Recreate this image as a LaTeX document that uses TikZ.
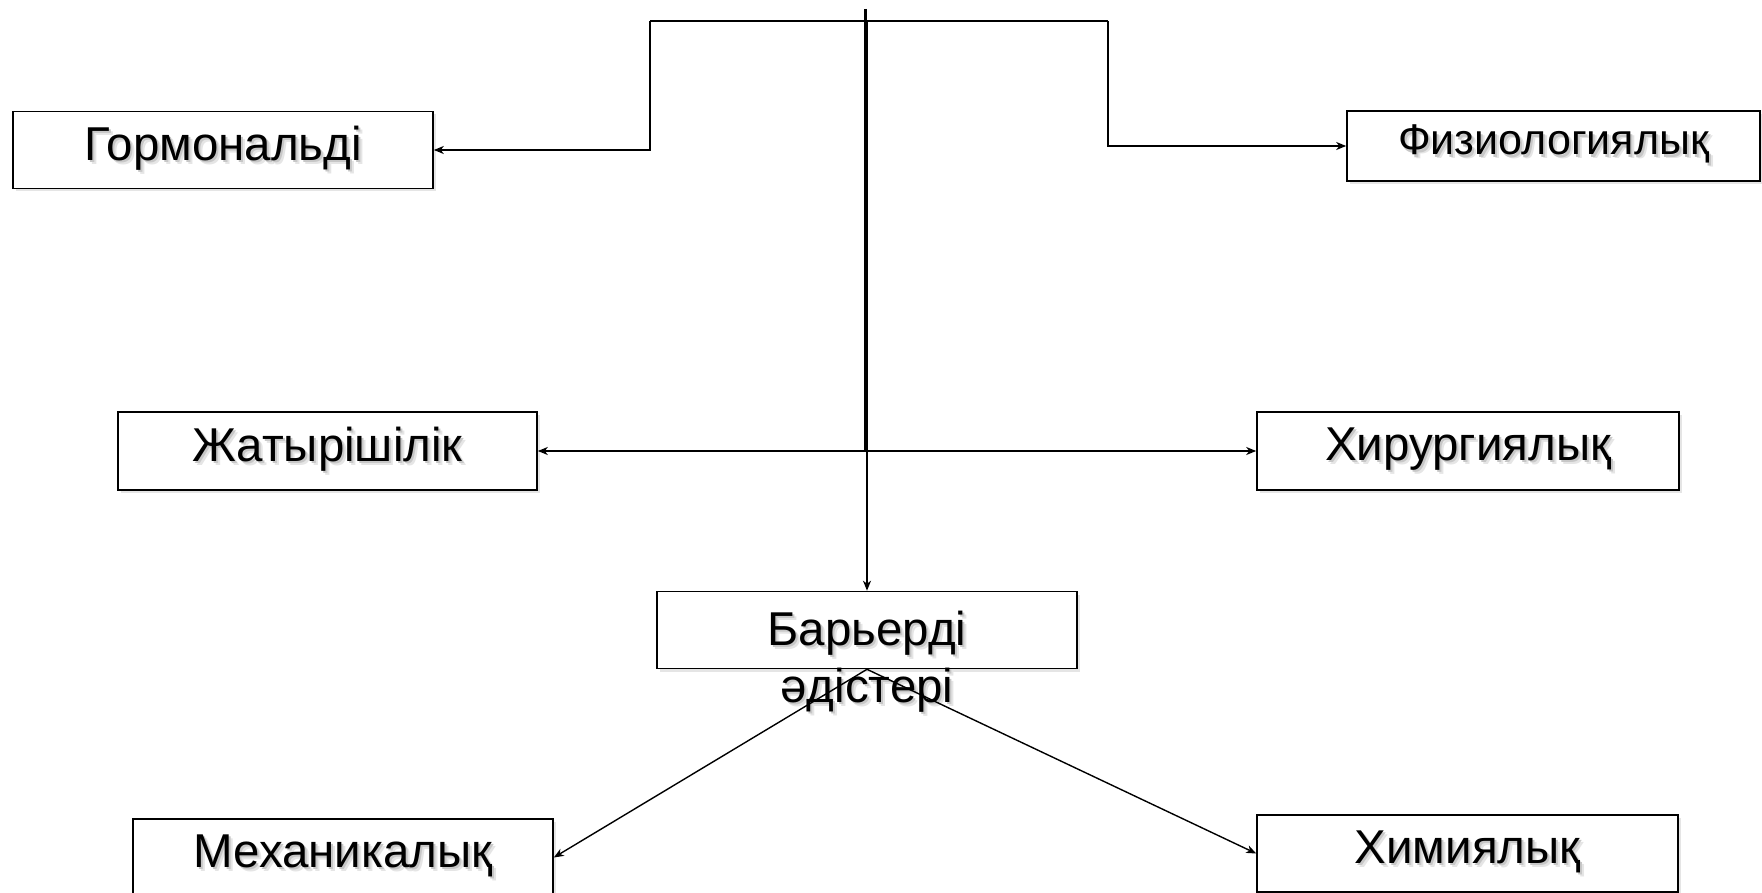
\documentclass[tikz,border=0pt]{standalone}
\usepackage{fontspec}
\setmainfont{Liberation Sans}
\usetikzlibrary{arrows.meta,shadows}
\newcommand\shd[1]{\leavevmode\rlap{\hspace{4pt}\raisebox{-4pt}{\textcolor{black!10}{#1}}}\rlap{\hspace{2pt}\raisebox{-2.5pt}{\textcolor{black!22}{#1}}}#1}
\begin{document}
\begin{tikzpicture}[x=1pt,y=-1pt,
  box/.style={draw,line width=1.6pt,fill=white,inner sep=0pt,
    drop shadow={shadow xshift=3pt,shadow yshift=-3pt,opacity=0.2}},
  lbl/.style={font=\fontsize{47.5}{55}\selectfont},
  conn/.style={line width=1.4pt},
  arr/.style={conn,-{Stealth[length=10pt,width=8pt,inset=3pt]}}]
\useasboundingbox (0,0) rectangle (1762,893);
\fill[white] (0,0) rectangle (1762,893);
% boxes
\node[box,minimum width=420pt,minimum height=77pt,lbl] (horm) at (223,150) {\shd{Гормональді}};
\node[box,minimum width=413pt,minimum height=70pt,font=\fontsize{43}{50}\selectfont] (phys) at (1553.5,146) {\shd{Физиологиялық}};
\node[box,minimum width=419pt,minimum height=78pt,lbl] (zhat) at (327.5,451) {\shd{Жатырішілік}};
\node[box,minimum width=422pt,minimum height=78pt,lbl] (hir) at (1468,451) {\shd{Хирургиялық}};
\node[box,minimum width=420pt,minimum height=77pt] (bar) at (867,630) {};
\node[lbl,anchor=base,inner sep=0pt] (bart1) at (867,645) {\shd{Барьерді}};
\node[lbl,anchor=base,inner sep=0pt] (bart2) at (867,702) {\shd{әдістері}};
\node[box,minimum width=420pt,minimum height=77pt,lbl] (mech) at (343,857.5) {\shd{Механикалық}};
\node[box,minimum width=421pt,minimum height=77pt,lbl] (chem) at (1467.5,853.5) {\shd{Химиялық}};
% connectors
\coordinate (top) at (865,9);
\coordinate (mid) at (865,451);
\coordinate (tl) at (650,21);
\coordinate (tr) at (1108,21);
\coordinate (t2) at (867,21);
\draw[line width=3pt] (top) -- (mid);
\draw[conn] (tl) -- (tr);
\draw[arr] (tl) |- (horm.east);
\draw[arr] (tr) |- (phys.west);
\draw[arr] (mid) -- (zhat.east);
\draw[arr] (mid) -- (hir.west);
\draw[arr] (t2) -- (bar.north);
\draw[arr] (bar.south) -- (mech.east);
\draw[arr] (bar.south) -- (chem.west);
\end{tikzpicture}
\end{document}
